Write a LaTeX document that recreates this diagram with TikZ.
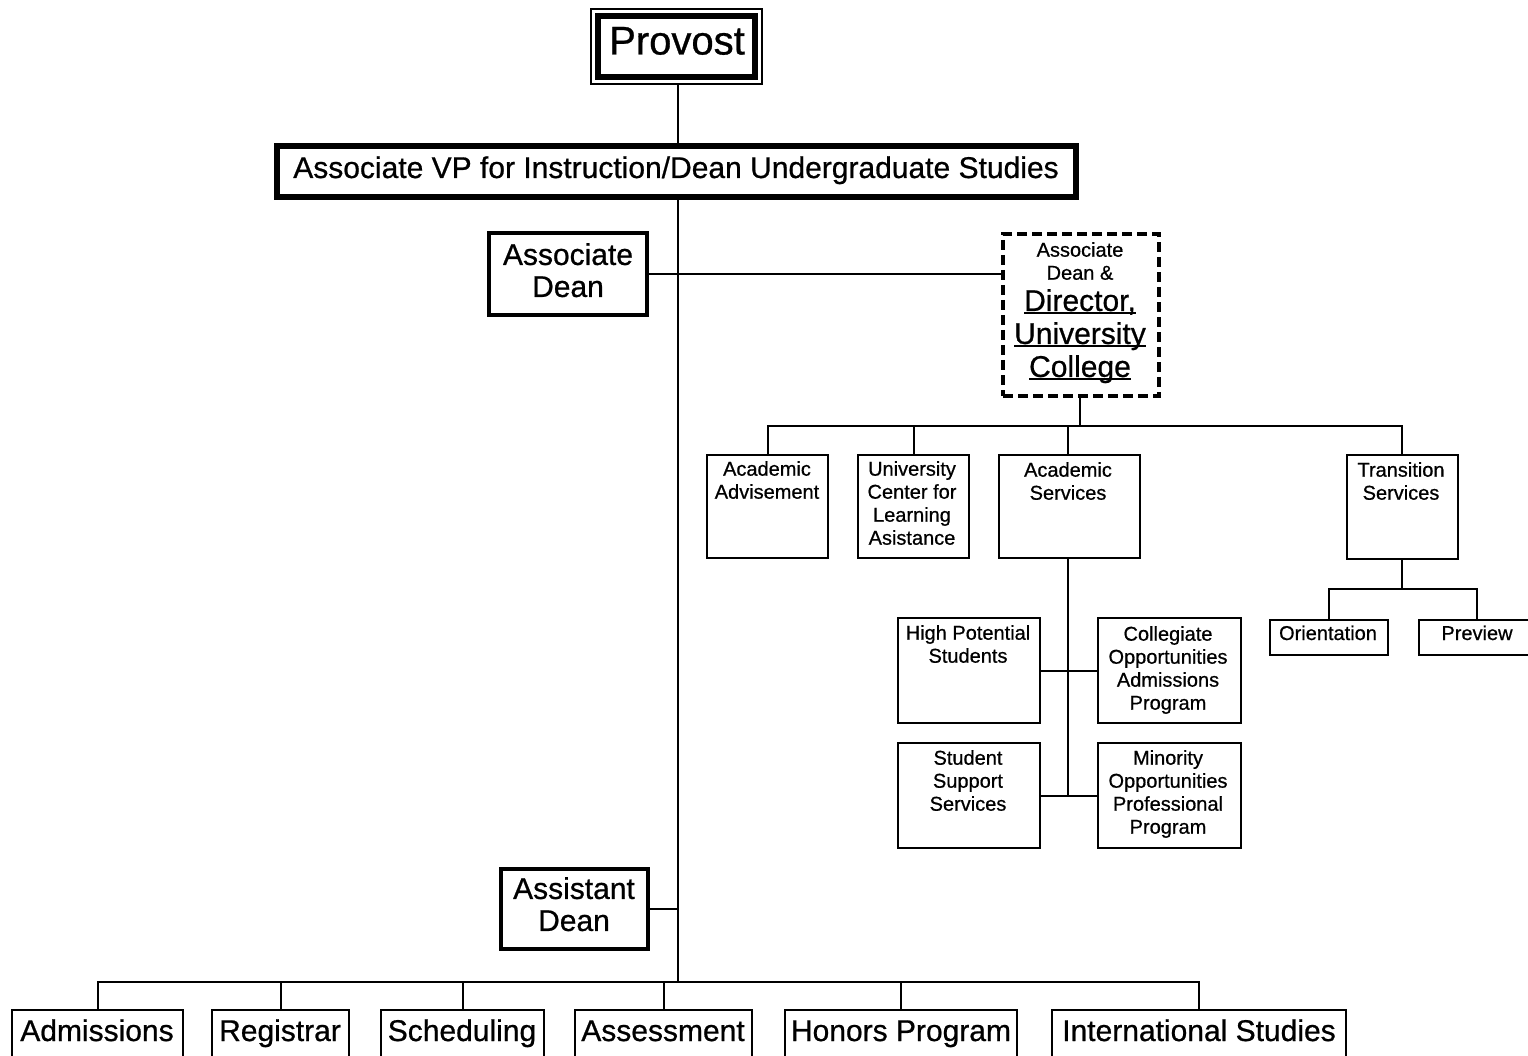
\documentclass[tikz,border=0pt]{standalone}
\usepackage{fontspec}
\setmainfont[FakeBold=0.7]{Liberation Sans}
\newcommand\myul[1]{\setbox0\hbox{#1}\rlap{\rule[-3.5pt]{\wd0}{2pt}}\box0}
\begin{document}
\begin{tikzpicture}[x=1pt,y=-1pt,
  thinbox/.style={draw, line width=2, inner sep=0, minimum width=#1},
  link/.style={line width=2},
  big/.style={font=\fontsize{30}{32}\selectfont, inner sep=0, align=center},
  bigb/.style={font=\fontsize{30}{33}\selectfont, inner sep=0, align=center},
  small/.style={font=\fontsize{20}{23}\selectfont, inner sep=0, align=center},
]
\useasboundingbox (0,0) rectangle (1528,1056);
\fill[white] (0,0) rectangle (1528,1056);

% Provost
\node[draw, line width=2, inner sep=0, minimum width=171, minimum height=75] (prov) at (676.5,46.5) {};
\draw[line width=6] ([shift={(8,8)}]prov.north west) rectangle ([shift={(-8,-8)}]prov.south east);
\node[font=\fontsize{40}{44}\selectfont, inner sep=0, anchor=base] (provt) at (677,54.5) {Provost};

% AVP
\node[draw, line width=6, inner sep=0, minimum width=799, minimum height=51] (avp) at (676,172) {};
\node[font=\fontsize{30}{33}\selectfont, inner sep=0, anchor=base] (avpt) at (676,178) {Associate VP for Instruction/Dean Undergraduate Studies};

% Associate Dean
\node[draw, line width=4, inner sep=0, minimum width=158, minimum height=82] (ad) at (568,274) {};
\node[big, anchor=north] (adt) at (568,243) {Associate\\Dean};

% Director
\node[draw, line width=4, dash pattern=on 10pt off 5pt, inner sep=0, minimum width=156, minimum height=162] (dir) at (1081,315) {};
\node[small, anchor=north] (dirt1) at (1080,242) {Associate\\Dean \&};
\node[bigb, anchor=north] (dirt2) at (1080,289) {\myul{Director,}\\\myul{University}\\\myul{College}};

% Assistant Dean
\node[draw, line width=4, inner sep=0, minimum width=147, minimum height=80] (asd) at (574.5,909) {};
\node[big, anchor=north] (asdt) at (574,877) {Assistant\\Dean};

% UC units
\node[thinbox=121, minimum height=103] (aa) at (767.5,506.5) {};
\node[small, anchor=north] at (767,461) {Academic\\Advisement};
\node[thinbox=111, minimum height=103] (uc) at (913.5,506.5) {};
\node[small, anchor=north] at (912,461) {University\\Center for\\Learning\\Asistance};
\node[thinbox=141, minimum height=103] (as) at (1069.5,506.5) {};
\node[small, anchor=north] at (1068,462) {Academic\\Services};
\node[thinbox=111, minimum height=104] (ts) at (1402,507) {};
\node[small, anchor=north] at (1401,462) {Transition\\Services};

\node[thinbox=118, minimum height=35] (or) at (1329,637.5) {};
\node[small, anchor=base] at (1328,640) {Orientation};
\node[thinbox=117, minimum height=35] (pv) at (1477,637.5) {};
\node[small, anchor=base] at (1477,640) {Preview};

\node[thinbox=142, minimum height=105] (hp) at (969,670.5) {};
\node[small, anchor=north] at (968,625) {High Potential\\Students};
\node[thinbox=143, minimum height=105] (co) at (1169.5,670.5) {};
\node[small, anchor=north] at (1168,626) {Collegiate\\Opportunities\\Admissions\\Program};
\node[thinbox=142, minimum height=105] (ss) at (969,795.5) {};
\node[small, anchor=north] at (968,750) {Student\\Support\\Services};
\node[thinbox=143, minimum height=105] (mo) at (1169.5,795.5) {};
\node[small, anchor=north] at (1168,750) {Minority\\Opportunities\\Professional\\Program};

% bottom row
\node[thinbox=171, minimum height=70] (adm) at (97.5,1045) {};
\node[big, anchor=base] at (97,1041) {Admissions};
\node[thinbox=137, minimum height=70] (reg) at (280.5,1045) {};
\node[big, anchor=base] at (280,1041) {Registrar};
\node[thinbox=163, minimum height=70] (sch) at (462.5,1045) {};
\node[big, anchor=base] at (462,1041) {Scheduling};
\node[thinbox=177, minimum height=70] (ass) at (663.5,1045) {};
\node[big, anchor=base] at (663,1041) {Assessment};
\node[thinbox=232, minimum height=70] (hon) at (901,1045) {};
\node[big, anchor=base] at (901,1041) {Honors Program};
\node[thinbox=294, minimum height=70] (int) at (1199,1045) {};
\node[big, anchor=base] at (1199,1041) {International Studies};

% connectors
\coordinate (bus) at (678,982);
\coordinate (ucbus) at (1080,426);
\coordinate (tsbus) at (1402,589);
\draw[link] (prov.south -| 678,0) -- (avp.north -| 678,0);
\draw[link] (avp.south -| 678,0) -- (bus);
\draw[link] (ad.east) -- (dir.west |- ad.east);
\draw[link] (asd.east) -- (asd.east -| bus);
\draw[link] (adm.north) -- (adm.north |- bus) -- (int.north |- bus) -- (int.north);
\foreach \n in {reg,sch,ass,hon} \draw[link] (\n.north) -- (\n.north |- bus);
\draw[link] (dir.south -| ucbus) -- (ucbus);
\draw[link] (aa.north) -- (aa.north |- ucbus) -- (ts.north |- ucbus) -- (ts.north);
\draw[link] (uc.north) -- (uc.north |- ucbus);
\draw[link] (as.north -| 1068,0) -- (1068,426);
\draw[link] (as.south -| 1068,0) -- (1068,796);
\draw[link] (hp.east) -- (co.west);
\draw[link] (ss.east) -- (mo.west);
\draw[link] (ts.south) -- (tsbus);
\draw[link] (or.north) -- (or.north |- tsbus) -- (pv.north |- tsbus) -- (pv.north);
\end{tikzpicture}
\end{document}
